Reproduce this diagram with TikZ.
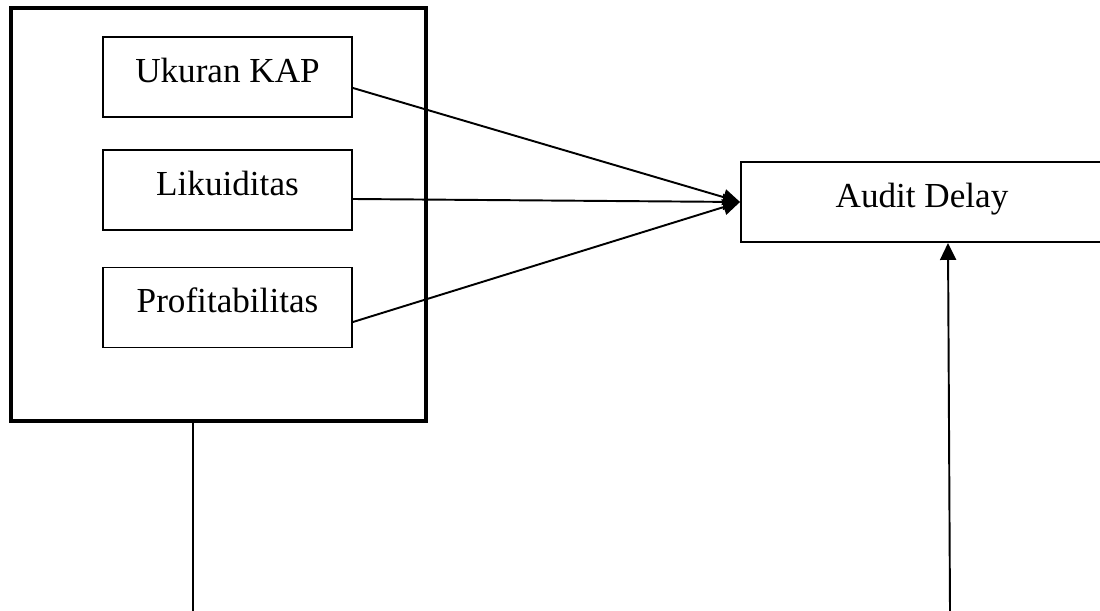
\documentclass[tikz,border=0pt]{standalone}
\usepackage{fontspec}
\setmainfont{Liberation Serif}
\usetikzlibrary{arrows.meta}
\begin{document}
\begin{tikzpicture}[
    varbox/.style={draw, line width=1.1pt, minimum width=4.98cm, minimum height=1.6cm,
        text depth=8pt, font=\fontsize{20}{24}\selectfont},
    groupbox/.style={draw, line width=2.3pt, minimum width=8.3cm, minimum height=8.26cm},
    arrowline/.style={line width=1.1pt, -{Triangle[length=0.34cm,width=0.32cm]}},
    plainline/.style={line width=1.1pt}
]
    \useasboundingbox (0,0) rectangle (22,-12.22);
    \clip (0,0) rectangle (22,-12.22);

	\node[groupbox] (grp) at (4.37,-4.29) {};
	\node[varbox] (kap) at (4.55,-1.54) {Ukuran KAP};
	\node[varbox] (lik) at (4.55,-3.80) {Likuiditas};
	\node[varbox] (pro) at (4.55,-6.15) {Profitabilitas};
	\node[varbox, minimum width=7.24cm] (ad) at (18.44,-4.04) {Audit Delay};

	\coordinate (low1) at (3.86,-12.22);
	\coordinate (low2) at (19.00,-12.22);

	\draw[arrowline] ([yshift=-0.22cm]kap.east) -- (ad.west);
	\draw[arrowline] ([yshift=-0.18cm]lik.east) -- (ad.west);
	\draw[arrowline] ([yshift=-0.29cm]pro.east) -- (ad.west);
	\draw[plainline] (grp.south -| low1) -- (low1);
	\draw[arrowline] (low2) -- ([xshift=0.52cm]ad.south);

\end{tikzpicture}
\end{document}
